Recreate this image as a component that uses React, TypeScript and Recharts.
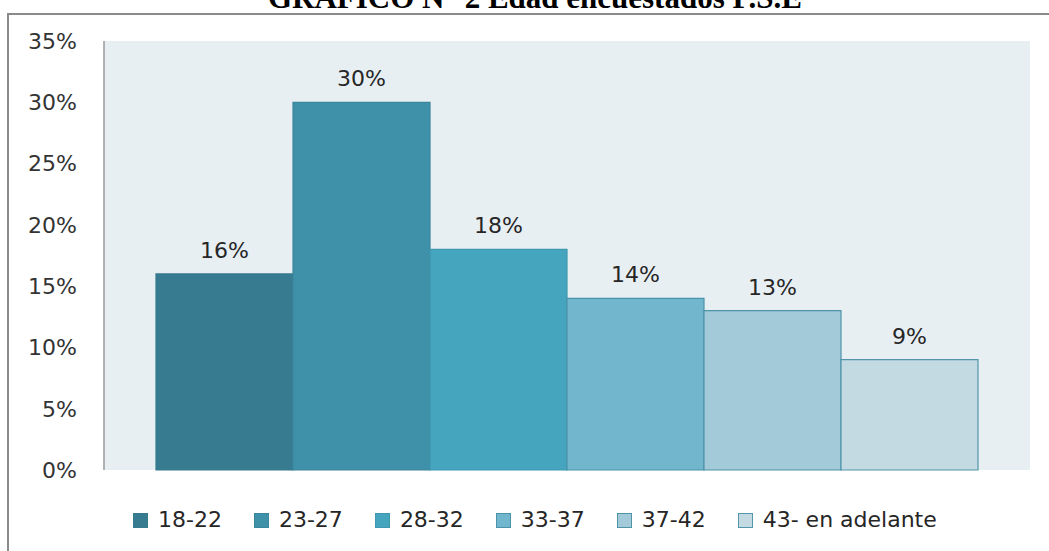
import { BarChart, Bar, XAxis, YAxis, CartesianGrid, Legend, LabelList } from 'recharts'

const ageGroups = ['18-22', '23-27', '28-32', '33-37', '37-42', '43- en adelante']
const shares = [16, 30, 18, 14, 13, 9]
const yTicks = [0, 5, 10, 15, 20, 25, 30, 35]

const fills = ['#367B8F', '#3F91A9', '#45A5BE', '#71B6CC', '#A2CAD8', '#C3DAE3']
const strokes = ['#357A8E', '#3A869D', '#3F98B0', '#4A93AA', '#4E93A8', '#5296AB']

const font = '"DejaVu Sans", Verdana, sans-serif'

const row: Record<string, any> = { name: 'Edad' }
ageGroups.forEach((g, i) => { row['s' + i] = shares[i] })
const data = [row]

function LegendBox({ payload }: any) {
  return (
    <div style={{ display: 'flex', height: 24, alignItems: 'center', paddingLeft: 133,
      fontFamily: font, fontSize: 22, color: '#262626' }}>
      {(payload || []).map((p: any, i: number) => (
        <div key={i} style={{ display: 'flex', alignItems: 'center', marginRight: 32 }}>
          <span style={{ width: 13, height: 13, background: fills[i],
            border: '1px solid ' + strokes[i], marginRight: 10, display: 'inline-block' }} />
          <span style={{ lineHeight: '24px' }}>{p.value}</span>
        </div>
      ))}
    </div>
  )
}

export default function App() {
  return (
    <div style={{ position: 'absolute', left: 0, top: 0, width: 1049, height: 551,
      overflow: 'hidden', background: 'white' }}>
      <div style={{ position: 'absolute', left: 7, top: 13, width: 1100, height: 600,
        border: '2px solid #8a8a8a' }} />
      <div style={{ position: 'absolute', left: 0, top: -18, width: 1070, textAlign: 'center',
        fontFamily: '"Liberation Serif", "Times New Roman", serif', fontWeight: 'bold',
        fontSize: 31, lineHeight: 1, color: '#000', whiteSpace: 'nowrap' }}>
        GRAFICO N° 2 Edad encuestados P.S.E
      </div>
      <div style={{ position: 'absolute', left: 0, top: 0 }}>
        <BarChart width={1049} height={551} data={data}
          margin={{ top: 41, right: 19, left: 0, bottom: 19 }}
          barCategoryGap={52} barGap={0}>
          <CartesianGrid horizontal={false} vertical={false} fill='#E8EFF3' />
          <XAxis dataKey='name' tick={false} axisLine={false} tickLine={false} height={38} />
          <YAxis domain={[0, 35]} ticks={yTicks} width={104} interval={0}
            tickFormatter={(v: number) => v + '%'} tickLine={false} tickSize={0} tickMargin={27}
            axisLine={{ stroke: '#9a9a9a', strokeWidth: 1.5 }}
            tick={{ fontSize: 22, fill: '#333', fontFamily: font }} />
          <Legend verticalAlign='bottom' content={<LegendBox />} />
          {ageGroups.map((g, i) => (
            <Bar key={g} dataKey={'s' + i} name={g} fill={fills[i]} stroke={strokes[i]}
              strokeWidth={1.2} isAnimationActive={false}>
              <LabelList dataKey={'s' + i} position='top' offset={16}
                formatter={(v: any) => v + '%'}
                style={{ fontSize: 22, fill: '#262626', fontFamily: font }} />
            </Bar>
          ))}
        </BarChart>
      </div>
    </div>
  )
}
